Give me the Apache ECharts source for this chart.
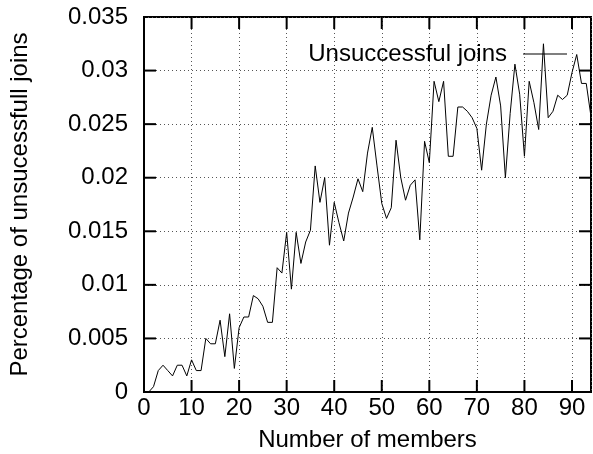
<!DOCTYPE html>
<html>
<head>
<meta charset="utf-8">
<script src="https://cdn.jsdelivr.net/npm/echarts@6/dist/echarts.min.js"></script>
<style>
  html, body { margin: 0; padding: 0; background: #fff; }
  #chart { width: 593px; height: 454px; }
</style>
</head>
<body>
<div id="chart"></div>
<script>
// Group size (number of members) for each measurement
const members = [
  1, 2, 3, 4, 5, 6, 7, 8, 9, 10,
  11, 12, 13, 14, 15, 16, 17, 18, 19, 20,
  21, 22, 23, 24, 25, 26, 27, 28, 29, 30,
  31, 32, 33, 34, 35, 36, 37, 38, 39, 40,
  41, 42, 43, 44, 45, 46, 47, 48, 49, 50,
  51, 52, 53, 54, 55, 56, 57, 58, 59, 60,
  61, 62, 63, 64, 65, 66, 67, 68, 69, 70,
  71, 72, 73, 74, 75, 76, 77, 78, 79, 80,
  81, 82, 83, 84, 85, 86, 87, 88, 89, 90,
  91, 92, 93, 94
];

// Fraction of join attempts that failed
const unsuccessfulJoins = [
  0.0000, 0.0005, 0.0020, 0.0025, 0.0020, 0.0015, 0.0025, 0.0025, 0.0015, 0.0030,
  0.0020, 0.0020, 0.0050, 0.0045, 0.0045, 0.0067, 0.0033, 0.0073, 0.0022, 0.0060,
  0.0070, 0.0070, 0.0090, 0.0087, 0.0080, 0.0065, 0.0065, 0.0116, 0.0111, 0.0149,
  0.0096, 0.0149, 0.0120, 0.0140, 0.0151, 0.0211, 0.0177, 0.0200, 0.0137, 0.0177,
  0.0158, 0.0141, 0.0167, 0.0182, 0.0199, 0.0187, 0.0223, 0.0247, 0.0211, 0.0176,
  0.0162, 0.0172, 0.0235, 0.0200, 0.0179, 0.0193, 0.0198, 0.0142, 0.0234, 0.0214,
  0.0290, 0.0271, 0.0290, 0.0220, 0.0220, 0.0266, 0.0266, 0.0262, 0.0256, 0.0246,
  0.0207, 0.0250, 0.0277, 0.0294, 0.0267, 0.0200, 0.0260, 0.0306, 0.0278, 0.0220,
  0.0290, 0.0270, 0.0245, 0.0325, 0.0256, 0.0262, 0.0277, 0.0273, 0.0277, 0.0298,
  0.0315, 0.0288, 0.0288, 0.0257
];

// Major tick positions, marked on all four sides of the frame
const xTicks = [10, 20, 30, 40, 50, 60, 70, 80, 90];
const yTicks = [0.005, 0.01, 0.015, 0.02, 0.025, 0.03];

const seriesName = 'Unsuccessful joins';
const xTitle = 'Number of members';
const yTitle = 'Percentage of unsucessfull joins';

const X_MIN = 0, X_MAX = 94, X_STEP = 10;
const Y_MIN = 0, Y_MAX = 0.035, Y_STEP = 0.005;

const FONT = 'Liberation Sans, Arial, Helvetica, sans-serif';
const FS = 24;
const TICK_LEN = 12;

const points = members.map((m, i) => [m, unsuccessfulJoins[i]]);

const dotted = { type: [1, 3], color: '#555', width: 1 };
const tickStyle = { stroke: '#000', lineWidth: 2 };

// Short inward marks at both ends of each gridline
function renderXTick(params, api) {
  const v = api.value(0);
  const b = api.coord([v, Y_MIN]);
  const t = api.coord([v, Y_MAX]);
  return {
    type: 'group',
    children: [
      { type: 'line', shape: { x1: b[0], y1: b[1], x2: b[0], y2: b[1] - TICK_LEN }, style: tickStyle },
      { type: 'line', shape: { x1: t[0], y1: t[1], x2: t[0], y2: t[1] + TICK_LEN }, style: tickStyle }
    ]
  };
}
function renderYTick(params, api) {
  const v = api.value(1);
  const l = api.coord([X_MIN, v]);
  const r = api.coord([X_MAX, v]);
  return {
    type: 'group',
    children: [
      { type: 'line', shape: { x1: l[0], y1: l[1], x2: l[0] + TICK_LEN, y2: l[1] }, style: tickStyle },
      { type: 'line', shape: { x1: r[0], y1: r[1], x2: r[0] - TICK_LEN, y2: r[1] }, style: tickStyle }
    ]
  };
}

const chart = echarts.init(document.getElementById('chart'), null, { renderer: 'canvas' });
chart.setOption({
  animation: false,
  backgroundColor: '#fff',
  textStyle: { fontFamily: FONT },
  grid: {
    left: 144, right: 2, top: 17, bottom: 62,
    containLabel: false, outerBoundsMode: 'none',
    show: true, borderColor: '#000', borderWidth: 2, backgroundColor: 'transparent'
  },
  legend: {
    show: true,
    right: 21,
    top: 37,
    align: 'right',
    icon: 'rect',
    itemWidth: 44,
    itemHeight: 1,
    textStyle: { fontFamily: FONT, fontSize: FS, color: '#000', padding: [0, 11, 0, 0] },
    data: [{ name: seriesName, itemStyle: { color: '#000' } }]
  },
  xAxis: {
    type: 'value', min: X_MIN, max: X_MAX, interval: X_STEP,
    position: 'bottom',
    name: xTitle, nameLocation: 'middle', nameGap: 36,
    nameTextStyle: { fontFamily: FONT, fontSize: FS, color: '#000' },
    axisLine: { show: true, onZero: false, lineStyle: { color: '#000', width: 2 } },
    axisTick: { show: false },
    axisLabel: { color: '#000', fontFamily: FONT, fontSize: FS, margin: 4, showMaxLabel: false },
    splitLine: { show: true, lineStyle: dotted }
  },
  yAxis: {
    type: 'value', min: Y_MIN, max: Y_MAX, interval: Y_STEP,
    position: 'left',
    name: yTitle, nameLocation: 'middle', nameGap: 112, nameRotate: 90,
    nameTextStyle: { fontFamily: FONT, fontSize: FS, color: '#000' },
    axisLine: { show: true, onZero: false, lineStyle: { color: '#000', width: 2 } },
    axisTick: { show: false },
    axisLabel: { color: '#000', fontFamily: FONT, fontSize: FS, margin: 16 },
    splitLine: { show: true, lineStyle: dotted }
  },
  series: [
    {
      name: seriesName,
      type: 'line',
      data: points,
      showSymbol: false,
      symbol: 'none',
      lineStyle: { color: '#000', width: 1 },
      itemStyle: { color: '#000' },
      z: 3
    },
    {
      name: 'xTicks',
      type: 'custom',
      silent: true,
      clip: false,
      renderItem: renderXTick,
      data: xTicks.map(v => [v, Y_MIN]),
      z: 4
    },
    {
      name: 'yTicks',
      type: 'custom',
      silent: true,
      clip: false,
      renderItem: renderYTick,
      data: yTicks.map(v => [X_MIN, v]),
      z: 4
    }
  ]
});
</script>
</body>
</html>
